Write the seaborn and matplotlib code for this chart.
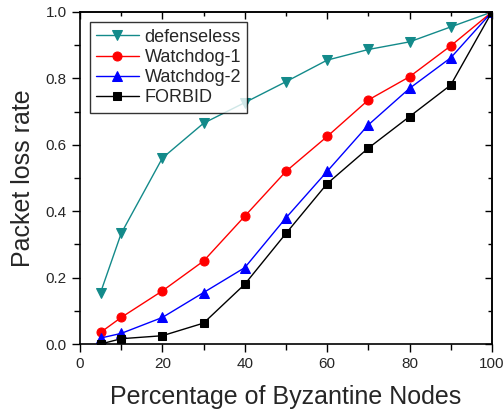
import matplotlib
matplotlib.use("Agg")
import matplotlib.pyplot as plt
import seaborn as sns
import pandas as pd
from matplotlib.ticker import MultipleLocator, NullFormatter, FormatStrFormatter

x = [5, 10, 20, 30, 40, 50, 60, 70, 80, 90, 100]
defenseless = [0.155, 0.333, 0.56, 0.665, 0.727, 0.79, 0.855, 0.887, 0.91, 0.955, 1.0]
watchdog1 = [0.035, 0.08, 0.16, 0.25, 0.385, 0.52, 0.625, 0.735, 0.805, 0.898, 1.0]
watchdog2 = [0.018, 0.032, 0.08, 0.155, 0.23, 0.38, 0.52, 0.66, 0.77, 0.862, 1.0]
forbid = [0.0, 0.016, 0.025, 0.063, 0.18, 0.333, 0.483, 0.59, 0.685, 0.78, 1.0]

series = ["defenseless", "Watchdog-1", "Watchdog-2", "FORBID"]
values = [defenseless, watchdog1, watchdog2, forbid]
colors = ["#138a8a", "#ff0000", "#0000ff", "#000000"]
markers = ["v", "o", "^", "s"]

sns.set_style("ticks")
plt.rcParams['font.family'] = ['Liberation Sans', 'DejaVu Sans']

rows = []
for name, vals in zip(series, values):
    for xi, yi in zip(x, vals):
        rows.append({"x": xi, "y": yi, "series": name})
df = pd.DataFrame(rows)

fig = plt.figure(figsize=(5.03, 4.13), dpi=100)
ax = fig.add_axes([0.159, 0.167, 0.819, 0.804])

for name, c, m in zip(series, colors, markers):
    sub = df[df.series == name]
    sns.lineplot(data=sub, x="x", y="y", ax=ax, color=c, marker=m,
                 markersize=6.5 if m != "s" else 5.5, markeredgecolor=c, linewidth=1,
                 label=name)

ax.set_xlim(0, 100)
ax.set_ylim(0, 1.0)
ax.xaxis.set_major_locator(MultipleLocator(20))
ax.xaxis.set_minor_locator(MultipleLocator(10))
ax.yaxis.set_major_locator(MultipleLocator(0.2))
ax.yaxis.set_minor_locator(MultipleLocator(0.1))
ax.yaxis.set_major_formatter(FormatStrFormatter('%.1f'))
ax.tick_params(which='both', direction='out', labelsize=11, width=1, color='black')
ax.tick_params(which='major', length=6)
ax.tick_params(which='minor', length=4)
for s in ax.spines.values():
    s.set_visible(True)
    s.set_linewidth(1.2)
    s.set_color('black')

# inward ticks on top and right
top = ax.secondary_xaxis('top')
top.xaxis.set_major_locator(MultipleLocator(20))
top.xaxis.set_minor_locator(MultipleLocator(10))
top.tick_params(which='both', direction='in', labeltop=False, width=1, color='black')
top.tick_params(which='major', length=5)
top.tick_params(which='minor', length=3)
top.xaxis.set_major_formatter(NullFormatter())
right = ax.secondary_yaxis('right')
right.yaxis.set_major_locator(MultipleLocator(0.2))
right.yaxis.set_minor_locator(MultipleLocator(0.1))
right.tick_params(which='both', direction='in', labelright=False, width=1, color='black')
right.tick_params(which='major', length=5)
right.tick_params(which='minor', length=3)
right.yaxis.set_major_formatter(NullFormatter())
for sec in (top, right):
    for s in sec.spines.values():
        s.set_linewidth(1.2)

ax.set_xlabel("Percentage of Byzantine Nodes", fontsize=18, labelpad=10)
ax.set_ylabel("Packet loss rate", fontsize=18, labelpad=8)

leg = ax.legend(loc="upper left", bbox_to_anchor=(0.01, 0.985), fontsize=13, frameon=True,
                fancybox=False, edgecolor='black', handlelength=2.4, borderpad=0.35,
                labelspacing=0.18, handletextpad=0.3, borderaxespad=0.3)
leg.get_frame().set_linewidth(1)

fig.savefig("out.png", dpi=100)
